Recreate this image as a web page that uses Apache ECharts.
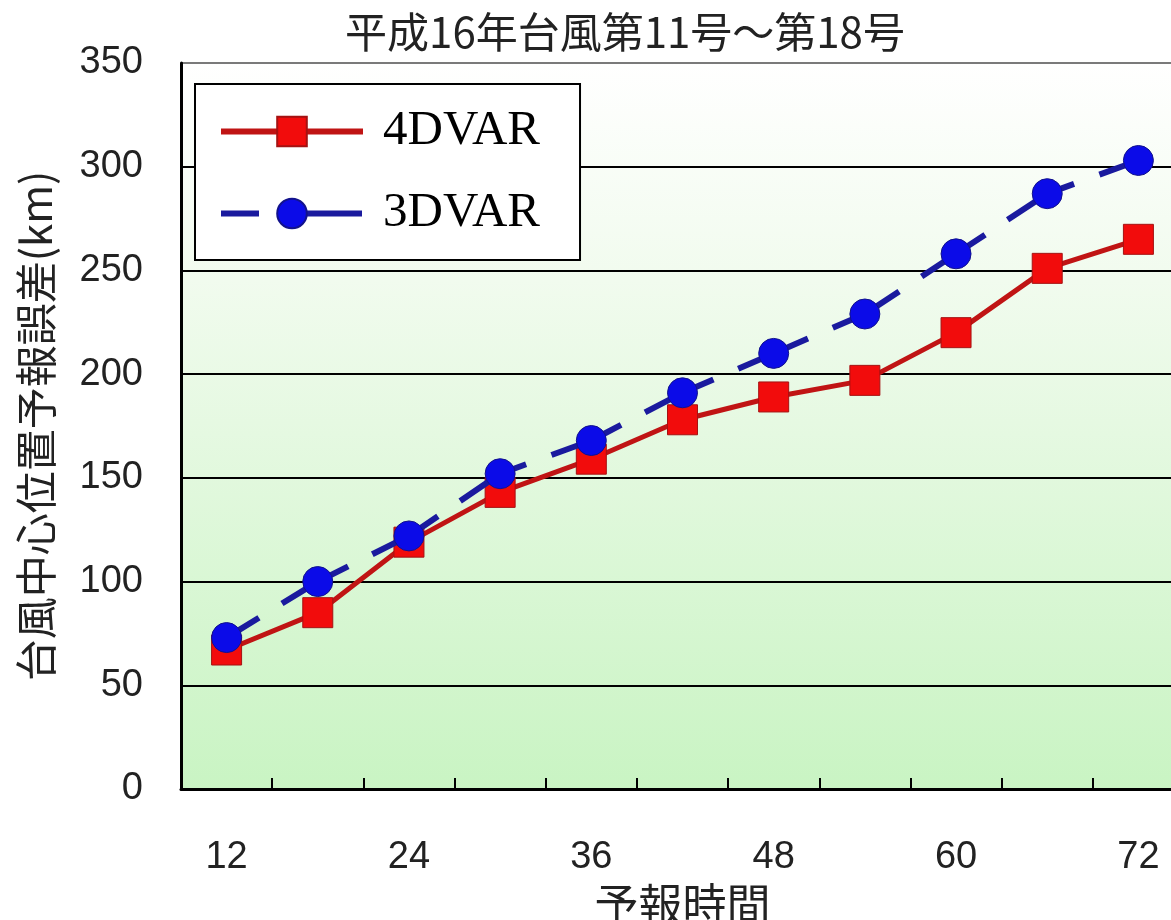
<!DOCTYPE html>
<html>
<head>
<meta charset="utf-8">
<script src="https://cdn.jsdelivr.net/npm/echarts@6/dist/echarts.min.js"></script>
<style>
  html, body { margin: 0; padding: 0; background: #fff; }
  #chart { width: 1171px; height: 920px; }
</style>
</head>
<body>
<div id="chart"></div>
<script>
// Forecast lead times (hours)
const leadTimes = ['12', '18', '24', '30', '36', '42', '48', '54', '60', '66', '72'];
// Typhoon centre position forecast error (km)
const err4dvar = [67, 85, 119, 143, 159, 178, 189, 197, 220, 251, 265];
const err3dvar = [73, 100, 122, 152, 168, 191, 210, 229, 258, 287, 303];
// Value axis ticks
const yMin = 0, yMax = 350, yStep = 50;

const titleText = '平成16年台風第11号～第18号';
const yName = '台風中心位置予報誤差(km)';
const xName = '予報時間';

const cjk = '"Noto Sans CJK JP", "Noto Sans CJK SC", sans-serif';
const num = '"Liberation Sans", Arial, sans-serif';

// split line colours: all black except the top line (350), which is grey
const splitColors = [];
for (let v = yMin; v <= yMax; v += yStep) splitColors.push(v === yMax ? '#7a7a7a' : '#000');

const chart = echarts.init(document.getElementById('chart'), null, { renderer: 'canvas' });

chart.setOption({
  animation: false,
  backgroundColor: '#ffffff',
  title: {
    text: titleText,
    left: 620,
    textAlign: 'center',
    top: 6,
    textStyle: { fontFamily: cjk, fontSize: 42, fontWeight: 'normal', color: '#222' }
  },
  grid: {
    show: true,
    left: 181,
    top: 63,
    width: 1003,
    height: 726,
    outerBoundsMode: 'none',
    containLabel: false,
    borderWidth: 0,
    backgroundColor: new echarts.graphic.LinearGradient(0, 0, 0, 1, [
      { offset: 0, color: '#ffffff' },
      { offset: 0.3, color: '#f1fbee' },
      { offset: 1, color: '#c9f4c3' }
    ])
  },
  legend: {
    orient: 'vertical',
    left: 195,
    top: 84,
    padding: [23, 40, 22, 23],
    itemGap: 33,
    itemWidth: 142,
    itemHeight: 37,
    backgroundColor: '#ffffff',
    borderColor: '#000',
    borderWidth: 2,
    borderRadius: 0,
    lineStyle: { width: 6 },
    textStyle: {
      fontFamily: '"Liberation Serif", "Times New Roman", serif',
      fontSize: 49,
      color: '#000',
      padding: [0, 0, 0, 15]
    },
    data: ['4DVAR', '3DVAR']
  },
  xAxis: {
    type: 'category',
    data: leadTimes,
    boundaryGap: true,
    name: xName,
    nameLocation: 'middle',
    nameGap: 90,
    nameTextStyle: { fontFamily: cjk, fontSize: 44, color: '#222' },
    axisLine: { show: true, lineStyle: { color: '#000', width: 3 } },
    axisTick: { show: true, inside: true, length: 11, interval: 0, lineStyle: { color: '#000', width: 2 } },
    axisLabel: {
      interval: 1,
      margin: 50,
      fontFamily: num,
      fontSize: 38,
      color: '#222'
    },
    splitLine: { show: false }
  },
  yAxis: {
    type: 'value',
    min: yMin,
    max: yMax,
    interval: yStep,
    name: yName,
    nameLocation: 'middle',
    nameGap: 124,
    nameRotate: 90,
    nameTextStyle: { fontFamily: cjk, fontSize: 42, color: '#222' },
    axisLine: { show: true, onZero: false, lineStyle: { color: '#000', width: 3 } },
    axisTick: { show: false },
    axisLabel: { margin: 38, fontFamily: num, fontSize: 38, color: '#222' },
    splitLine: { show: true, lineStyle: { color: splitColors, width: 2 } }
  },
  series: [
    {
      name: '4DVAR',
      type: 'line',
      data: err4dvar,
      symbol: 'rect',
      symbolSize: 30,
      lineStyle: { color: '#c01414', width: 5 },
      itemStyle: { color: '#f20c0c', borderColor: '#a51212', borderWidth: 1 },
      z: 3
    },
    {
      name: '3DVAR',
      type: 'line',
      data: err3dvar,
      symbol: 'circle',
      symbolSize: 30,
      lineStyle: { color: '#1a1a9e', width: 6, type: [76, 27], dashOffset: 38 },
      itemStyle: { color: '#0b0be8', borderColor: '#12128c', borderWidth: 1 },
      z: 4
    }
  ]
});
</script>
</body>
</html>
